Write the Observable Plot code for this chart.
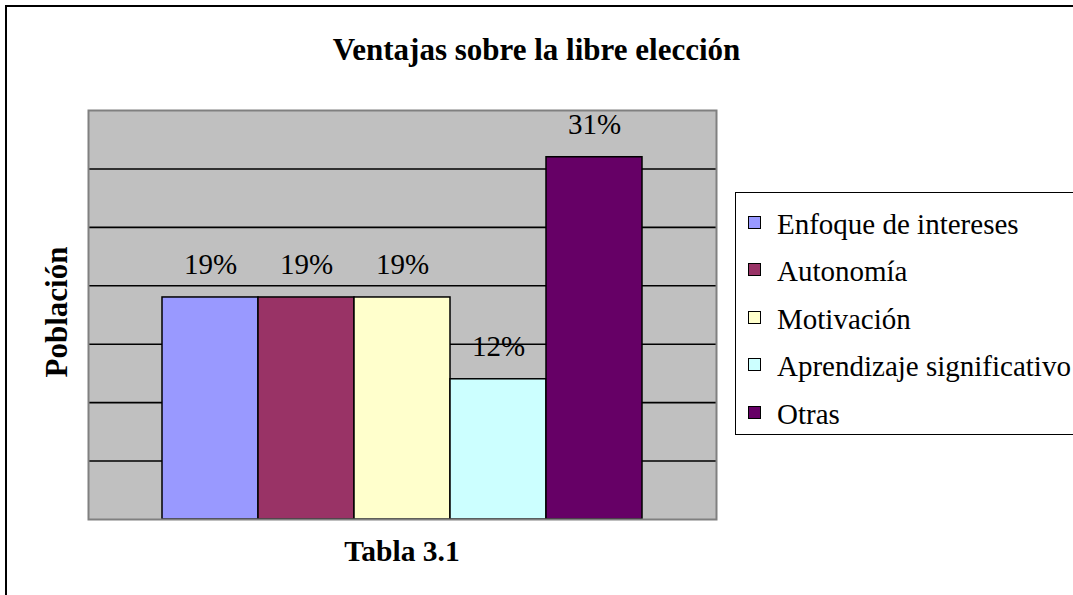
<!DOCTYPE html>
<html>
<head>
<meta charset="utf-8">
<script src="https://cdn.jsdelivr.net/npm/d3@7"></script>
<script src="https://cdn.jsdelivr.net/npm/@observablehq/plot@0.6"></script>
<style>
  html, body { margin: 0; padding: 0; background: #fff; }
  #wrap { position: relative; width: 1073px; height: 595px; overflow: hidden; font-family: "Liberation Serif", "Times New Roman", serif; }
  #border { position: absolute; left: 5px; top: 5px; width: 1100px; height: 600px; border: 2px solid #000; box-sizing: border-box; }
  #chart { position: absolute; left: 0; top: 0; }
  .lbl { position: absolute; line-height: 1; white-space: nowrap; color: #000; }
  #title { left: 0; width: 1073px; text-align: center; top: 34px; font-size: 31px; font-weight: bold; }
  #xlabel { left: 402px; transform: translateX(-50%); top: 537px; font-size: 29.5px; font-weight: bold; }
  #ylabel { left: 56px; top: 312px; transform: translate(-50%, -50%) rotate(-90deg); font-size: 31px; font-weight: bold; }
  #legend { position: absolute; left: 735px; top: 192px; width: 400px; height: 243px; border: 1.5px solid #000; box-sizing: border-box; background: #fff; }
  .sw { position: absolute; width: 13px; height: 13px; border: 1.5px solid #000; box-sizing: border-box; }
  .lt { position: absolute; line-height: 1; font-size: 29px; white-space: nowrap; }
</style>
</head>
<body>
<div id="wrap">
  <div id="border"></div>
  <div id="chart"></div>
  <div class="lbl" id="title">Ventajas sobre la libre elección</div>
  <div class="lbl" id="ylabel">Población</div>
  <div class="lbl" id="xlabel">Tabla 3.1</div>
  <div id="legend"></div>
</div>
<script>
// Data
const categories = ["Enfoque de intereses", "Autonomía", "Motivación", "Aprendizaje significativo", "Otras"];
const values = [19, 19, 19, 12, 31];
const colors = ["#9999FF", "#993366", "#FFFFCC", "#CCFFFF", "#660066"];
const gridTicks = [5, 10, 15, 20, 25, 30];
const yMax = 35;

const data = categories.map((c, i) => ({cat: c, value: values[i]}));
const font = "'Liberation Serif', 'Times New Roman', serif";

const chart = Plot.plot({
  width: 1073,
  height: 595,
  marginTop: 110,
  marginBottom: 76,
  marginLeft: 88,
  marginRight: 357,
  style: {background: "transparent", fontFamily: font},
  x: {domain: categories, paddingInner: 0, paddingOuter: 0.75, axis: null},
  y: {domain: [0, yMax], axis: null},
  color: {domain: categories, range: colors},
  marks: [
    Plot.frame({fill: "#c0c0c0", stroke: "none"}),
    Plot.ruleY(gridTicks, {stroke: "#000", strokeWidth: 1.6}),
    Plot.barY(data, {x: "cat", y: "value", fill: "cat", stroke: "#000", strokeWidth: 1.5}),
    Plot.frame({stroke: "#808080", strokeWidth: 2}),
    Plot.text(data, {x: "cat", y: "value", text: d => d.value + "%", lineAnchor: "bottom", dy: -23, fontSize: 29, fill: "#000", fontFamily: font})
  ]
});
document.getElementById("chart").appendChild(chart);

// Legend
const legend = document.getElementById("legend");
categories.forEach((c, i) => {
  const baseline = 233 + i * 47.5;
  const sw = document.createElement("div");
  sw.className = "sw";
  sw.style.background = colors[i];
  sw.style.left = (747 - 735) + "px";
  sw.style.top = (baseline - 12 - 6.5 - 192) + "px";
  legend.appendChild(sw);
  const t = document.createElement("div");
  t.className = "lt";
  t.textContent = c;
  t.style.left = (776 - 735) + "px";
  t.style.top = (baseline - 0.8375 * 29 - 192) + "px";
  legend.appendChild(t);
});
</script>
</body>
</html>
